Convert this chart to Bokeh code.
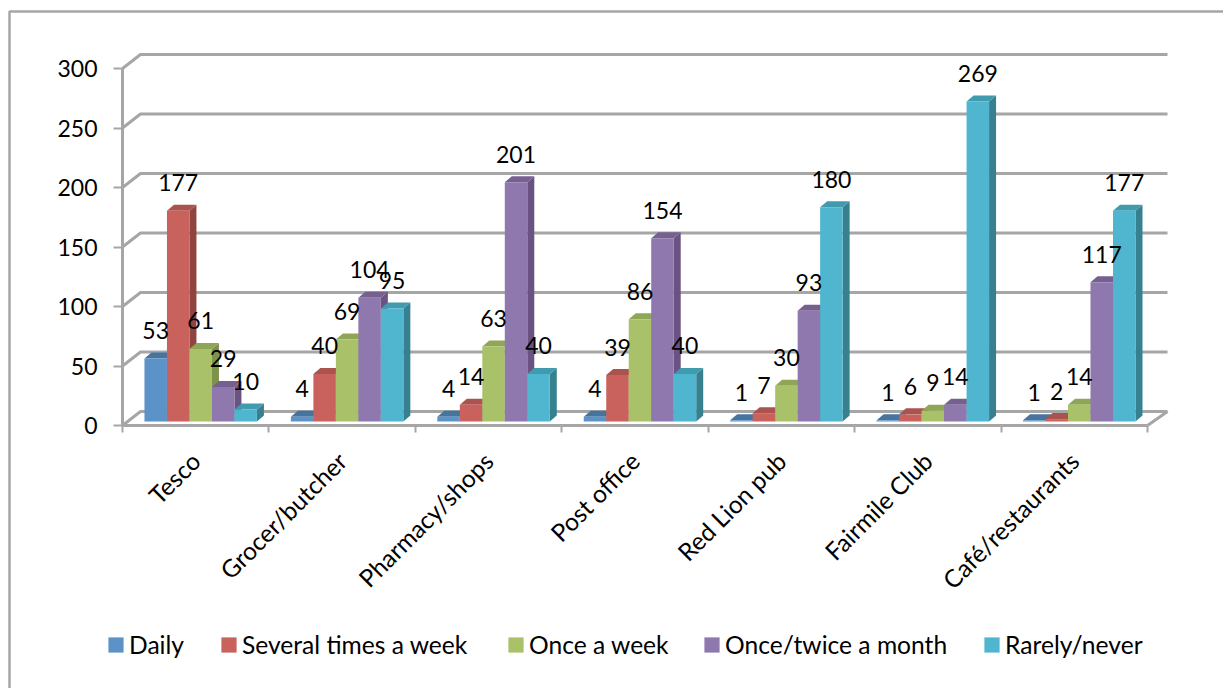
from math import pi
from bokeh.embed import file_html
from bokeh.resources import INLINE
from bokeh.plotting import figure
from bokeh.models import FixedTicker, Legend, LegendItem, Range1d, ColumnDataSource
from bokeh.core.properties import value

categories = ["Tesco", "Grocer/butcher", "Pharmacy/shops", "Post office", "Red Lion pub", "Fairmile Club", "Café/restaurants"]
series_names = ["Daily", "Several times a week", "Once a week", "Once/twice a month", "Rarely/never"]
daily = [53, 4, 4, 4, 1, 1, 1]
several = [177, 40, 14, 39, 7, 6, 2]
weekly = [61, 69, 63, 86, 30, 9, 14]
monthly = [29, 104, 201, 154, 93, 14, 117]
rarely = [10, 95, 40, 40, 180, 269, 177]
y_ticks = [0, 50, 100, 150, 200, 250, 300]

all_series = [daily, several, weekly, monthly, rarely]
front = ["#5b93c8", "#c9625c", "#a9c26a", "#8f78ad", "#50b5cf"]
side = ["#3f6a96", "#8f4440", "#7f9249", "#6a5282", "#37808f"]
top = ["#47749f", "#ab534e", "#8fa657", "#76608f", "#419bae"]
legend_x = [106, 219, 506, 702, 982]
GRID = "#a6a6a6"
FONT = "Lato"
FS = "23px"
FS_TEXT = "24.6px"
FS_CAT = "24.5px"

W, H = 1223, 688
ox, oy = 122, 425            # page pixel of the axes' origin
ppu_y = 357 / 300            # pixels per value
ppu_x = (1147 - 122) / 7     # pixels per category

def dx(px): return px / ppu_x
def dy(px): return px / ppu_y

p = figure(width=W, height=H, output_backend="svg", toolbar_location=None,
           x_range=Range1d(-ox / ppu_x, (W - ox) / ppu_x), y_range=Range1d((oy - H) / ppu_y, oy / ppu_y),
           min_border=0, outline_line_color=None, background_fill_color="white",
           border_fill_color="white")
p.grid.visible = False

# chart frame: only its left and top edges show
p.line([dx(9 - ox), dx(9 - ox), dx(W - ox)], [dy(oy - H), dy(oy - 11), dy(oy - 11)],
       line_color=GRID, line_width=2.5)

# 3D walls
wall_dx, wall_dy = dx(18), dy(14)
for v in y_ticks:
    p.line([0, wall_dx, 7 + dx(20)], [v, v + wall_dy, v + wall_dy], line_color=GRID, line_width=3)
p.line([7, 7 + dx(20)], [0, wall_dy], line_color=GRID, line_width=3)

# bars
bar_w = 0.1536
gap = 0.15
base = dy(4)
depth_x, depth_y = dx(7), dy(6)
for s, (vals, name) in enumerate(zip(all_series, series_names)):
    lefts = [i + gap + s * bar_w for i in range(len(vals))]
    rights = [l + bar_w for l in lefts]
    tops = [base + v for v in vals]
    p.patches([[r, r + depth_x, r + depth_x, r] for r in rights],
              [[base, base + depth_y, t + depth_y, t] for t in tops],
              fill_color=side[s], line_color=None)
    p.patches([[l, l + depth_x, r + depth_x, r] for l, r in zip(lefts, rights)],
              [[t, t + depth_y, t + depth_y, t] for t in tops],
              fill_color=top[s], line_color=None)
    r = p.quad(left=lefts, right=rights, bottom=base, top=tops, fill_color=front[s], line_color=None)
    leg = Legend(items=[LegendItem(label=name, renderers=[r])],
                 location=(legend_x[s], 29), orientation="horizontal",
                 glyph_width=19, glyph_height=19, label_standoff=4, padding=0, margin=0,
                 background_fill_alpha=0, border_line_color=None,
                 label_text_font=FONT, label_text_font_size=FS_TEXT, label_text_color="#000000",
                 label_height=20, label_text_baseline="middle")
    p.add_layout(leg, "center")

# data labels, drawn over every bar
for s, vals in enumerate(all_series):
    src = ColumnDataSource(dict(x=[i + gap + (s + .5) * bar_w for i in range(len(vals))],
                                y=[base + v for v in vals], t=[str(v) for v in vals]))
    p.text("x", "y", text="t", source=src, text_font=value(FONT), text_font_size=FS, text_color="#000000",
           text_align="center", text_baseline="middle", y_offset=-28)

# axes
ya = p.yaxis[0]
ya.fixed_location = 0
ya.ticker = FixedTicker(ticks=y_ticks)
ya.bounds = (0, 300)
ya.axis_line_color = GRID; ya.axis_line_width = 3
ya.major_tick_line_color = GRID; ya.major_tick_line_width = 2
ya.major_tick_in = 0; ya.major_tick_out = 9
ya.minor_tick_line_color = None
ya.major_label_standoff = 16
ya.major_label_text_font = FONT; ya.major_label_text_font_size = FS; ya.major_label_text_color = "#000000"

xa = p.xaxis[0]
xa.fixed_location = 0
xa.ticker = FixedTicker(ticks=[i + .5 for i in range(7)], minor_ticks=list(range(8)))
xa.major_label_overrides = {i + .5: c for i, c in enumerate(categories)}
xa.bounds = (0, 7)
xa.axis_line_color = GRID; xa.axis_line_width = 3
xa.major_tick_line_color = None; xa.major_tick_in = 0; xa.major_tick_out = 0
xa.minor_tick_line_color = GRID; xa.minor_tick_line_width = 2
xa.minor_tick_in = 0; xa.minor_tick_out = 7
xa.major_label_orientation = pi / 4
xa.major_label_standoff = 24
xa.major_label_text_font = FONT; xa.major_label_text_font_size = FS_CAT; xa.major_label_text_color = "#000000"

open("out.html", "w").write(file_html(p, INLINE))
